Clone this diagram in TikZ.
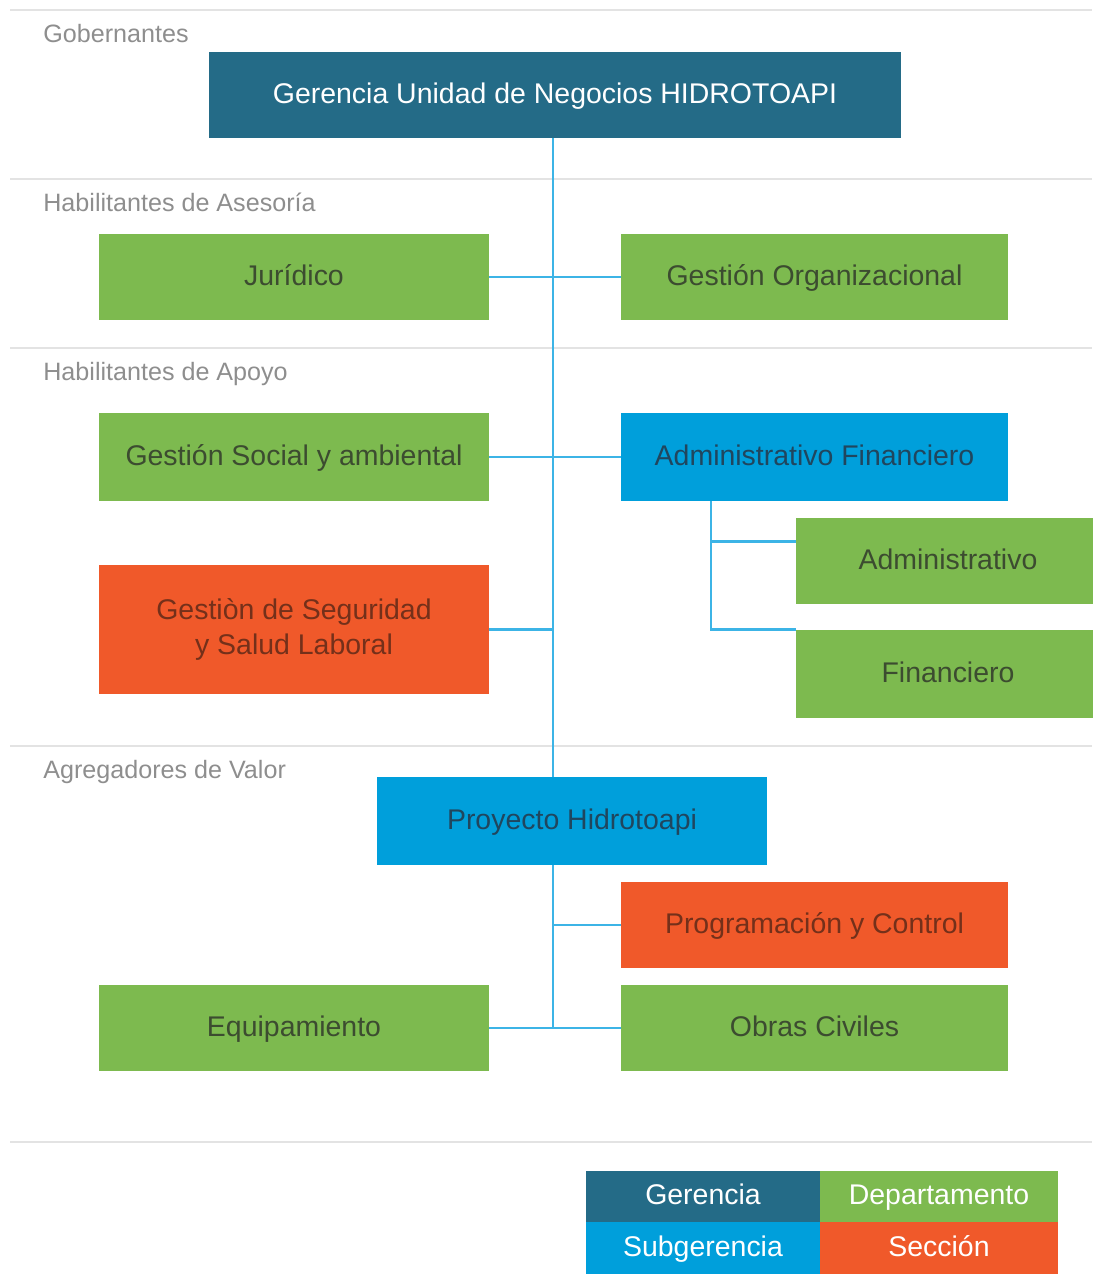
\documentclass[tikz,border=0pt]{standalone}
\usepackage{fontspec}
\setmainfont{Liberation Sans}
\definecolor{gerc}{HTML}{246B87}
\definecolor{subc}{HTML}{009FDB}
\definecolor{depc}{HTML}{7DBA4F}
\definecolor{secc}{HTML}{F0592A}
\definecolor{linec}{HTML}{3CB4E6}
\definecolor{sepc}{HTML}{E3E3E3}
\definecolor{labc}{HTML}{8E8E8E}
\definecolor{deptxt}{HTML}{3C4C30}
\definecolor{subtxt}{HTML}{20465E}
\definecolor{sectxt}{HTML}{74301A}

\begin{document}
\begin{tikzpicture}[x=0.02cm,y=-0.02cm,
        box/.style={inner sep=0pt,minimum height=1.72cm,align=center,text height=13.4pt,text depth=3.4pt,font=\fontsize{16.2}{20}\selectfont},
        gerbox/.style={box,fill=gerc,text=white},
        subbox/.style={box,fill=subc,text=subtxt},
        depbox/.style={box,fill=depc,text=deptxt},
        secbox/.style={box,fill=secc,text=sectxt},
        keybox/.style={inner sep=0pt,minimum height=1.03cm,text height=12.6pt,text depth=3.4pt,text=white,font=\fontsize{16.2}{20}\selectfont},
        seclabel/.style={anchor=base west,inner sep=0pt,text=labc,font=\fontsize{14.3}{17}\selectfont},
        sepline/.style={draw=sepc,line width=1.1pt},
        link/.style={draw=linec,line width=1.4pt}]
                \useasboundingbox (0,0) rectangle (1092,1274);
                \foreach \y in {10,179,348,746,1142}
                    \draw[sepline] (10,\y) -- (1092,\y);
                \node[seclabel] (lgob) at (43,43) {Gobernantes};
                \node[seclabel] (lase) at (43,211) {Habilitantes de Asesoría};
                \node[seclabel] (lapo) at (43,380) {Habilitantes de Apoyo};
                \node[seclabel] (lagr) at (43,778) {Agregadores de Valor};
                \node[gerbox,minimum width=13.84cm] (ger) at (555,95) {Gerencia Unidad de Negocios HIDROTOAPI};
                \node[depbox,minimum width=7.8cm] (jur) at (294,277) {Jurídico};
                \node[depbox,minimum width=7.74cm] (gorg) at (814.5,277) {Gestión Organizacional};
                \node[depbox,minimum width=7.8cm,minimum height=1.76cm] (gsoc) at (294,457) {Gestión Social y ambiental};
                \node[subbox,minimum width=7.74cm,minimum height=1.76cm] (adfin) at (814.5,457) {Administrativo Financiero};
                \node[depbox,minimum width=6.08cm] (adm) at (948,561) {Administrativo};
                \node[depbox,minimum width=6.08cm,minimum height=1.76cm] (fin) at (948,674) {Financiero};
                \node[secbox,minimum width=7.8cm,minimum height=2.58cm,text height=,text depth=] (gseg) at (294,629.5) {Gestiòn de Seguridad\\y Salud Laboral};
                \node[subbox,minimum width=7.8cm,minimum height=1.76cm] (proy) at (572,821) {Proyecto Hidrotoapi};
                \node[secbox,minimum width=7.74cm] (prog) at (814.5,925) {Programación y Control};
                \node[depbox,minimum width=7.8cm] (equ) at (294,1028) {Equipamiento};
                \node[depbox,minimum width=7.74cm] (obr) at (814.5,1028) {Obras Civiles};
                \node[keybox,fill=gerc,minimum width=4.68cm] (kger) at (703,1196.5) {Gerencia};
                \node[keybox,fill=depc,minimum width=4.76cm] (kdep) at (939,1196.5) {Departamento};
                \node[keybox,fill=subc,minimum width=4.68cm] (ksub) at (703,1248) {Subgerencia};
                \node[keybox,fill=secc,minimum width=4.76cm] (ksec) at (939,1248) {Sección};
                \coordinate (t) at (553,0);
                \coordinate (s) at (711,0);
                \coordinate (a1) at ([yshift=-0.48cm]adm.north west);
                \draw[link] (ger.south -| t) -- (proy.north -| t);
                \draw[link] (jur) -- (gorg);
                \draw[link] (gsoc) -- (adfin);
                \draw[link] (gseg) -- (gseg -| t);
                \draw[link] (adfin.south -| s) |- (fin.north west);
                \draw[link] (s |- a1) -- (a1);
                \draw[link] (proy.south -| t) -- (t |- obr);
                \draw[link] (t |- prog) -- (prog);
                \draw[link] (equ) -- (obr);
            \end{tikzpicture}
\end{document}
